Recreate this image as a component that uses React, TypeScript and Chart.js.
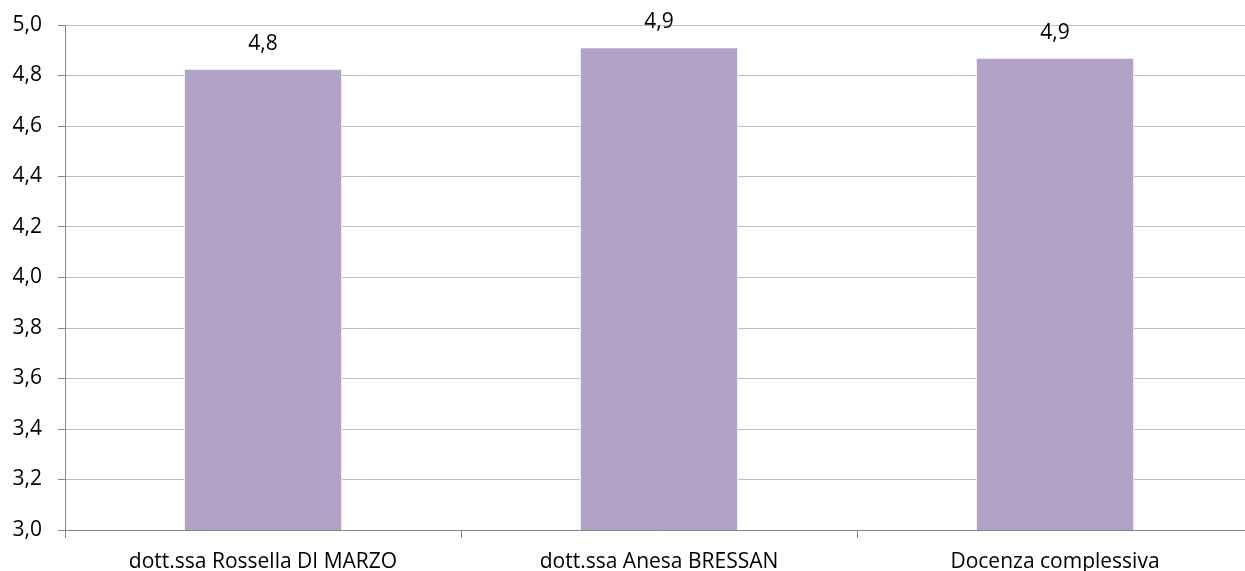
import React, { useEffect, useRef } from "react";
import { Chart, registerables } from "chart.js";

Chart.register(...registerables);

const categories = ["dott.ssa Rossella DI MARZO", "dott.ssa Anesa BRESSAN", "Docenza complessiva"];
const values = [4.827, 4.912, 4.87];
const yMin = 3.0;
const yMax = 5.0;
const yStep = 0.2;

const FONT = "'Open Sans', 'Noto Sans', sans-serif";
const FSIZE = 21;

const fmt = (v: number) => v.toFixed(1).replace(".", ",");

const labelPlugin = {
  id: "valueLabels",
  afterDatasetsDraw(chart: any) {
    const ctx = chart.ctx;
    const meta = chart.getDatasetMeta(0);
    ctx.save();
    ctx.fillStyle = "#000000";
    ctx.font = `${FSIZE}px ${FONT}`;
    ctx.textAlign = "center";
    ctx.textBaseline = "middle";
    meta.data.forEach((bar: any, i: number) => {
      ctx.fillText(fmt(values[i]), bar.x, bar.y - 25);
    });
    ctx.restore();
  },
};

export default function App() {
  const ref = useRef<HTMLCanvasElement | null>(null);
  useEffect(() => {
    if (!ref.current) return;
    const chart = new Chart(ref.current, {
      type: "bar",
      data: {
        labels: categories,
        datasets: [
          {
            data: values,
            backgroundColor: "#B3A2C7",
            borderColor: "#FFFFFF",
            borderWidth: 1,
            barPercentage: 0.4,
            categoryPercentage: 1,
          },
        ],
      },
      options: {
        responsive: false,
        animation: false,
        devicePixelRatio: 1,
        layout: { padding: { top: 25, left: 0, right: 0, bottom: 0 } },
        plugins: { legend: { display: false }, tooltip: { enabled: false } },
        scales: {
          x: {
            afterFit(scale: any) {
              scale.height = 41;
              scale.paddingLeft = 0;
              scale.paddingRight = 0;
            },
            grid: {
              offset: true,
              drawOnChartArea: false,
              tickLength: 8,
              tickColor: "#868686",
            },
            border: { color: "#868686", width: 1 },
            ticks: {
              color: "#000000",
              font: { family: FONT, size: FSIZE },
              padding: 11,
              maxRotation: 0,
            },
          },
          y: {
            min: yMin,
            max: yMax,
            afterFit(scale: any) {
              scale.width = 65;
              scale.paddingTop = 0;
              scale.paddingBottom = 0;
            },
            grid: {
              color: "#C0C0C0",
              tickLength: 7,
              tickColor: "#868686",
            },
            border: { color: "#868686", width: 1 },
            ticks: {
              stepSize: yStep,
              color: "#000000",
              font: { family: FONT, size: FSIZE },
              padding: 16,
              callback: (v: any) => fmt(Number(v)),
            },
          },
        },
      },
      plugins: [labelPlugin],
    });
    return () => chart.destroy();
  }, []);
  return (
    <div style={{ position: "fixed", left: 0, top: 0, width: 1245, height: 571, overflow: "hidden" }}>
      <canvas ref={ref} width={1253} height={571} style={{ display: "block" }} />
    </div>
  );
}
